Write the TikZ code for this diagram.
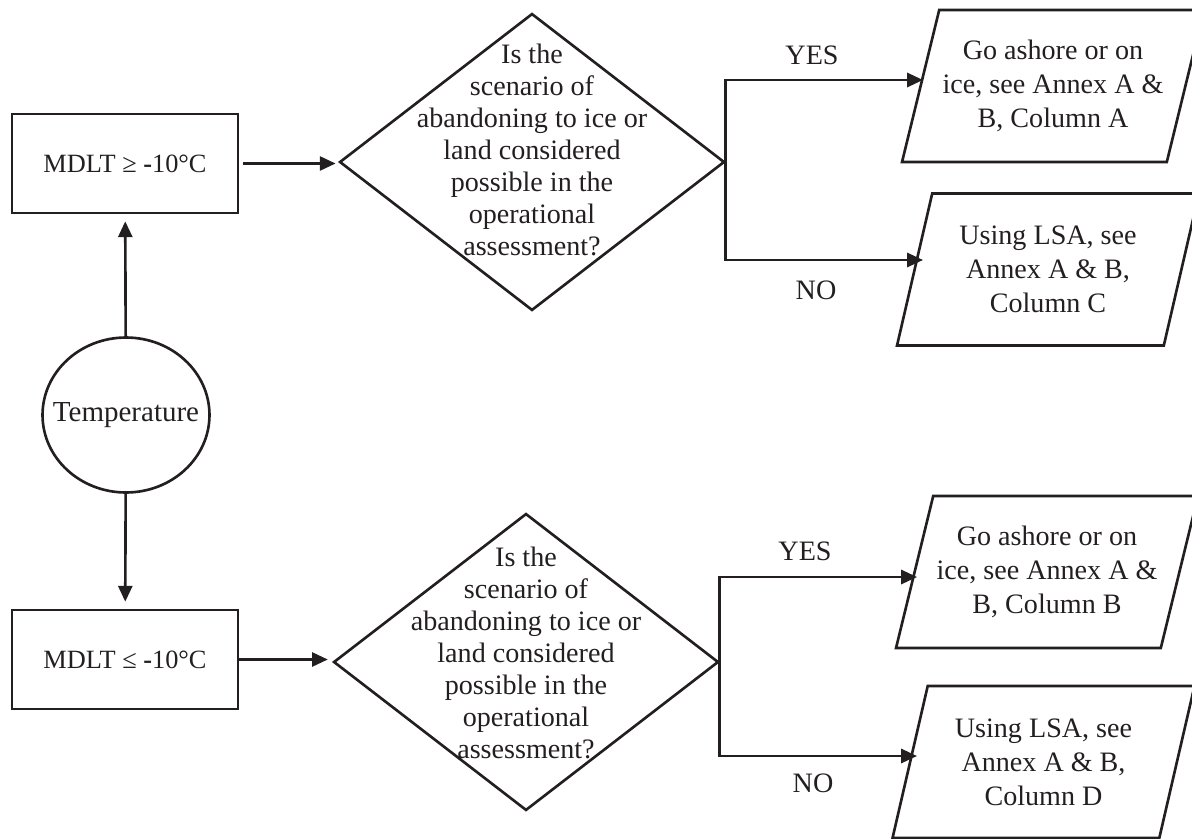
\documentclass[tikz,border=0pt]{standalone}
\usepackage{fontspec}
\setmainfont{Liberation Serif}
\usetikzlibrary{shapes.geometric, positioning, arrows.meta}
\definecolor{inkcolor}{RGB}{35,31,32}

\begin{document}
\begin{tikzpicture}[x=0.02cm, y=-0.02cm]
  \tikzset{
    box/.style={
      draw=inkcolor,
      line width=1.5pt,
      minimum width=4.52cm,
      minimum height=1.98cm,
      inner sep=0pt,
      anchor=center,
      text=inkcolor,
      font=\fontsize{15}{19.4}\selectfont
    },
    temp/.style={
      draw=inkcolor,
      ellipse,
      line width=1.5pt,
      minimum width=3.34cm,
      minimum height=3.1cm,
      inner sep=0pt
    },
    plain/.style={
      text=inkcolor,
      font=\fontsize{16.5}{19.4}\selectfont
    },
    question/.style={
      draw=inkcolor,
      diamond,
      line width=1.5pt,
      minimum width=7.7cm,
      minimum height=5.94cm,
      inner sep=0pt
    },
    qtext/.style={
      align=center,
      text=inkcolor,
      font=\fontsize{16}{18.2}\selectfont
    },
    outcome/.style={
      draw=inkcolor,
      trapezium,
      trapezium left angle=68,
      trapezium right angle=112,
      trapezium stretches body,
      line width=1.5pt,
      minimum width=6.04cm,
      minimum height=3.04cm,
      inner sep=0pt,
      align=center,
      text=inkcolor,
      font=\fontsize{16}{19.4}\selectfont
    },
    answer/.style={
      text=inkcolor,
      font=\fontsize{16}{19.4}\selectfont
    },
    arrow/.style={
      draw=inkcolor,
      line width=1.5pt,
      -{Triangle[length=9pt,width=8pt]}
    }
  }
  \useasboundingbox (0,0) rectangle (1192,838);

  % Start and the two temperature ranges
  \node[temp] at (126,415) (temp) {};
  \node[plain] at (temp.center) (templabel) {Temperature};
  \node[box] at (125,163.5) (box0) {MDLT ≥ {\bfseries -}10°C};
  \node[box] at (125,659.5) (box1) {MDLT ≤ {\bfseries -}10°C};

  % Questions
  \node[question] at (532,162) (ques0) {};
  \node[qtext] at ([yshift=7pt]ques0.center) (ques0text) {Is the\\scenario of\\abandoning to ice or\\land considered\\possible in the\\operational\\assessment?};
  \node[question] at (526,662) (ques1) {};
  \node[qtext] at ([yshift=5.4pt]ques1.center) (ques1text) {Is the\\scenario of\\abandoning to ice or\\land considered\\possible in the\\operational\\assessment?};

  % Outcomes
  \node[outcome] at (1053,86) (out0) {Go ashore or on\\ice, see Annex A \&\\B, Column A};
  \node[outcome] at (1048,269.5) (out1) {Using LSA, see\\Annex A \& B,\\Column C};
  \node[outcome] at (1047,572) (out2) {Go ashore or on\\ice, see Annex A \&\\B, Column B};
  \node[outcome] at (1043.5,762) (out3) {Using LSA, see\\Annex A \& B,\\Column D};

  % Arrow ends next to the outcomes
  \coordinate (yes0) at (923,80);
  \coordinate (no0) at (923,260);
  \coordinate (yes1) at (917,577);
  \coordinate (no1) at (917,756);

  % Connections
  \draw[arrow, shorten >=4pt] (temp) -- (box0);
  \draw[arrow, shorten >=4pt] (temp) -- (box1);
  \draw[arrow, shorten <=2pt, shorten >=1.5pt] (box0.east) -- (box0.east -| ques0.west);
  \draw[arrow, shorten >=2.5pt] (box1.east) -- (box1.east -| ques1.west);
  \draw[arrow] (ques0.east) |- (yes0);
  \draw[arrow] (ques0.east) |- (no0);
  \draw[arrow] (ques1.east) |- (yes1);
  \draw[arrow] (ques1.east) |- (no1);

  % Answer labels
  \node[answer] at (812,55) (yes0label) {YES};
  \node[answer] at (816,290) (no0label) {NO};
  \node[answer] at (805,551) (yes1label) {YES};
  \node[answer] at (813,783) (no1label) {NO};
\end{tikzpicture}
\end{document}
